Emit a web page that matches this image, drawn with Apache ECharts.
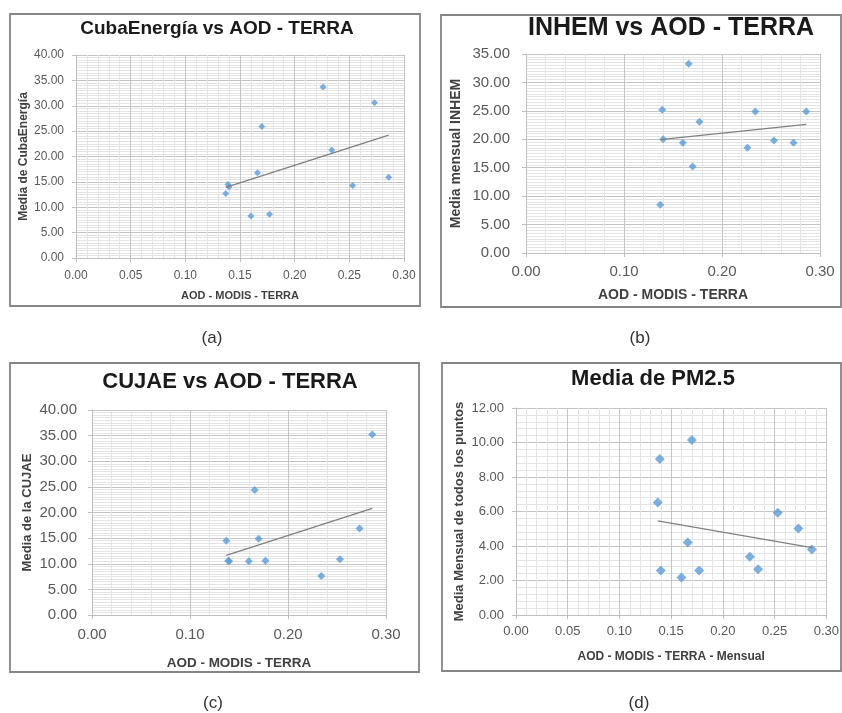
<!DOCTYPE html>
<html>
<head>
<meta charset="utf-8">
<style>
html,body{margin:0;padding:0;background:#fff;}
#chart{width:842px;height:713px;}
</style>
<script src="https://cdn.jsdelivr.net/npm/echarts@6/dist/echarts.min.js"></script>
</head>
<body>
<div id="chart"></div>
<script>
// ---- Data ----
const aod = [0.137, 0.139, 0.140, 0.160, 0.166, 0.170, 0.177, 0.226, 0.234, 0.253, 0.273, 0.286];
const cubaEnergia = [12.7, 14.5, 14.0, 8.3, 16.8, 25.9, 8.6, 33.7, 21.3, 14.3, 30.6, 15.9];
const inhem = [8.5, 25.2, 20.0, 19.4, 33.3, 15.2, 23.1, 18.5, 24.9, 19.8, 19.4, 24.9];
const cujae = [14.5, 10.6, 10.5, 10.5, 24.4, 14.9, 10.6, null, 7.6, 10.9, 16.9, 35.2];
const pm25 = [6.52, 9.05, 2.58, 2.17, 4.21, 10.15, 2.58, 3.38, 2.65, 5.93, 5.01, 3.79];

const titles = ['CubaEnergía vs AOD - TERRA', 'INHEM vs AOD - TERRA', 'CUJAE vs AOD - TERRA', 'Media de PM2.5'];
const xNames = ['AOD - MODIS - TERRA', 'AOD - MODIS - TERRA', 'AOD - MODIS - TERRA', 'AOD - MODIS - TERRA - Mensual'];
const yNames = ['Media de CubaEnergía', 'Media mensual INHEM', 'Media de la CUJAE', 'Media Mensual de todos los puntos'];
const captions = ['(a)', '(b)', '(c)', '(d)'];
const xIntervals = [0.05, 0.10, 0.10, 0.05];
const yMax = [40, 35, 40, 12];
const yIntervals = [5, 5, 5, 2];
const series = [cubaEnergia, inhem, cujae, pm25];

// ---- Layout / style ----
const FONT = 'Liberation Sans';
const panels = [
  {grid:{left:76, top:55, width:328, height:203}, border:[10,14,410,292], title:{x:217, y:19, size:19},
   tick:12, xm:12, ym:12, xName:{size:11, gap:32}, yName:{size:12, gap:39}, sym:7, xMinor:5, yMinor:10, cap:[212,338]},
  {grid:{left:526, top:54, width:294, height:199}, border:[441,15,400,292], title:{x:671, y:16, size:25},
   tick:15, xm:11, ym:16, xName:{size:14, gap:35}, yName:{size:14, gap:63}, sym:8, xMinor:5, yMinor:10, cap:[640,338]},
  {grid:{left:92, top:410, width:294, height:205}, border:[10,363,409,309], title:{x:230, y:371, size:22},
   tick:15, xm:12, ym:15, xName:{size:13.5, gap:41}, yName:{size:13, gap:58}, sym:8, xMinor:5, yMinor:10, cap:[213,703]},
  {grid:{left:516, top:408, width:311, height:207}, border:[442,363,399,308], title:{x:653, y:368, size:22},
   tick:13, xm:10, ym:12, xName:{size:12, gap:36}, yName:{size:13, gap:50}, sym:10, xMinor:5, yMinor:5, cap:[639,703]}
];

function trend(xs, ys) {
  const pts = [];
  xs.forEach((x, i) => { if (ys[i] != null) pts.push([x, ys[i]]); });
  const n = pts.length;
  const mx = pts.reduce((s, p) => s + p[0], 0) / n;
  const my = pts.reduce((s, p) => s + p[1], 0) / n;
  let sxy = 0, sxx = 0;
  pts.forEach(p => { sxy += (p[0] - mx) * (p[1] - my); sxx += (p[0] - mx) * (p[0] - mx); });
  const b = sxy / sxx, a = my - b * mx;
  const x0 = Math.min(...pts.map(p => p[0])), x1 = Math.max(...pts.map(p => p[0]));
  return [[x0, a + b * x0], [x1, a + b * x1]];
}

const grids = [], xAxes = [], yAxes = [], allSeries = [], titleOpts = [], graphics = [];
panels.forEach((p, i) => {
  grids.push(Object.assign({containLabel:false}, p.grid));
  const common = {
    type:'value', gridIndex:i, min:0,
    axisLine:{show:true, lineStyle:{color:'#bfbfbf', width:1}},
    axisTick:{show:true, length:4, lineStyle:{color:'#bfbfbf'}},
    splitLine:{show:true, lineStyle:{color:'#c4c4c4', width:1}},
    minorSplitLine:{show:true, lineStyle:{color:'#e4e4e4', width:1}},
    nameLocation:'middle'
  };
  xAxes.push(Object.assign({}, common, {
    max:0.3, interval:xIntervals[i],
    minorTick:{show:false, splitNumber:p.xMinor},
    axisLabel:{color:'#595959', fontFamily:FONT, fontSize:p.tick, margin:p.xm, formatter:v => v.toFixed(2)},
    name:xNames[i], nameGap:p.xName.gap,
    nameTextStyle:{color:'#404040', fontFamily:FONT, fontWeight:'bold', fontSize:p.xName.size}
  }));
  yAxes.push(Object.assign({}, common, {
    max:yMax[i], interval:yIntervals[i],
    minorTick:{show:false, splitNumber:p.yMinor},
    axisLabel:{color:'#595959', fontFamily:FONT, fontSize:p.tick, margin:p.ym, formatter:v => v.toFixed(2)},
    name:yNames[i], nameGap:p.yName.gap, nameRotate:90,
    nameTextStyle:{color:'#404040', fontFamily:FONT, fontWeight:'bold', fontSize:p.yName.size}
  }));
  const pts = [];
  aod.forEach((x, k) => { if (series[i][k] != null) pts.push([x, series[i][k]]); });
  allSeries.push({
    type:'scatter', xAxisIndex:i, yAxisIndex:i, data:pts,
    symbol:'diamond', symbolSize:p.sym, itemStyle:{color:'#5b9bd5'}, silent:true, z:3
  });
  allSeries.push({
    type:'line', xAxisIndex:i, yAxisIndex:i, data:trend(aod, series[i]),
    showSymbol:false, symbol:'none', lineStyle:{color:'#808080', width:1.3}, silent:true, z:4
  });
  titleOpts.push({
    text:titles[i], left:p.title.x, top:p.title.y, textAlign:'center', padding:0,
    textStyle:{fontFamily:FONT, fontWeight:'bold', fontSize:p.title.size, color:'#1a1a1a'}
  });
  const [bx, by, bw, bh] = p.border;
  graphics.push({type:'rect', shape:{x:bx, y:by, width:bw, height:bh},
    style:{fill:'none', stroke:'#858585', lineWidth:1.8}, silent:true, z:-1});
  graphics.push({type:'text', x:p.cap[0], y:p.cap[1],
    style:{text:captions[i], fill:'#333', font:'17px "' + FONT + '"', textAlign:'center', textVerticalAlign:'middle'}, silent:true});
});

const chart = echarts.init(document.getElementById('chart'), null, {renderer:'canvas'});
chart.setOption({
  backgroundColor:'#ffffff',
  animation:false,
  title:titleOpts,
  grid:grids,
  xAxis:xAxes,
  yAxis:yAxes,
  series:allSeries,
  graphic:graphics
});
</script>
</body>
</html>
